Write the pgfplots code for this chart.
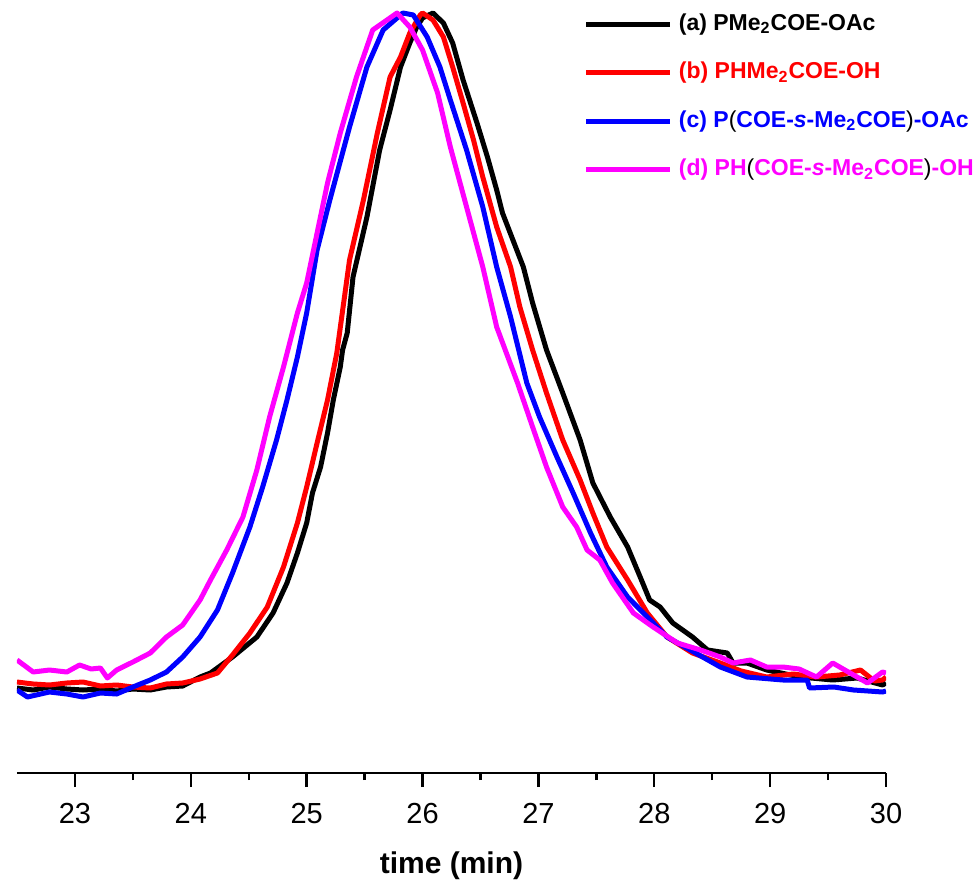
\documentclass[border=0pt]{standalone}
\usepackage{fontspec}
\setmainfont{Liberation Sans}
\usepackage{pgfplots}
\pgfplotsset{compat=1.18}
\definecolor{cBlack}{RGB}{0,0,0}
\definecolor{cRed}{RGB}{255,0,0}
\definecolor{cBlue}{RGB}{0,0,255}
\definecolor{cMag}{RGB}{255,0,255}
\begin{document}
\begin{tikzpicture}
\begin{axis}[
  at={(0,0)}, anchor=south west,
  scale only axis, width=434.5pt, height=386.5pt,
  xmin=22.5, xmax=30, ymin=0, ymax=773,
  axis x line*=bottom, hide y axis,
  axis line style={line width=1.2pt, black},
  xtick={23,24,25,26,27,28,29,30},
  minor x tick num=1,
  tick align=outside, xtick pos=bottom,
  major tick length=7pt, minor tick length=3.5pt,
  tick style={line width=1.2pt, black},
  /pgf/number format/assume math mode=true,
  xticklabel style={font=\fontsize{14.5}{17}\selectfont, yshift=-4.5pt},
  xlabel={\textbf{time (min)}},
  xlabel style={font=\fontsize{15}{18}\selectfont, yshift=-7pt},
  legend cell align=left,
  legend image code/.code={\draw[#1] (0pt,0pt) -- (42pt,0pt);},
  legend style={draw=none, fill=none, at={(0.645,0.99)}, anchor=north west,
    font=\bfseries\fontsize{11.5}{13}\selectfont,
    nodes={inner sep=0pt, text height=9pt, text depth=3pt},
    row sep=12.3pt, column sep=3pt},
  every axis plot/.append style={line width=2.5pt, line join=round},
]
\addplot[cBlack] coordinates {
(22.50,85) (22.64,83) (22.78,86) (22.93,84) (23.07,83) (23.22,84) (23.36,82) (23.50,84) (23.65,83) (23.79,86) (23.93,87)
(24.08,96) (24.17,100) (24.36,116) (24.57,136) (24.71,160) (24.83,190) (24.92,220) (25.00,250)
(25.05,280) (25.12,306) (25.18,340) (25.23,373) (25.29,406) (25.31,423) (25.35,440) (25.40,496)
(25.52,556) (25.63,623) (25.72,663) (25.81,706) (25.89,730) (25.95,746) (26.00,755) (26.09,760)
(26.18,750) (26.26,730) (26.35,693) (26.47,650) (26.56,616) (26.64,583) (26.69,560) (26.78,533)
(26.87,506) (26.95,470) (27.07,423) (27.21,380) (27.36,333) (27.47,290) (27.62,256) (27.77,226)
(27.90,190) (27.96,173) (28.05,166) (28.16,150) (28.33,136) (28.46,123) (28.63,120) (28.68,110)
(28.80,110) (28.97,103) (29.26,96) (29.54,93) (29.75,95) (29.97,88) (30.00,90)
};
\addlegendentry{\textcolor{cBlack}{(a) PMe\textsubscript{2}COE-OAc}}
\addplot[cRed] coordinates {
(22.50,91) (22.64,89) (22.78,88) (22.93,90) (23.07,91) (23.22,87) (23.36,88) (23.50,86) (23.65,85) (23.79,89) (23.93,90)
(24.08,94) (24.23,100) (24.36,118) (24.51,140) (24.66,166) (24.80,206) (24.92,250) (25.00,286)
(25.09,330) (25.18,373) (25.26,420) (25.37,513) (25.49,573) (25.61,640) (25.72,696) (25.81,716)
(25.89,740) (25.98,758) (26.00,760) (26.09,753) (26.18,736) (26.26,706) (26.35,670) (26.44,633)
(26.52,596) (26.64,546) (26.76,506) (26.84,466) (26.95,423) (27.07,380) (27.21,333) (27.36,293)
(27.47,260) (27.59,226) (27.77,193) (27.94,160) (28.11,136) (28.33,120) (28.57,110) (28.75,102)
(28.97,96) (29.20,99) (29.40,96) (29.60,98) (29.78,103) (29.90,92) (29.97,93) (30.00,96)
};
\addlegendentry{\textcolor{cRed}{(b) PHMe\textsubscript{2}COE-OH}}
\addplot[cBlue] coordinates {
(22.50,83) (22.59,76) (22.78,81) (22.93,79) (23.07,76) (23.22,80) (23.36,79) (23.50,86) (23.65,93)
(23.79,101) (23.93,116) (24.08,136) (24.23,163) (24.36,200) (24.51,246) (24.62,286) (24.74,333)
(24.83,373) (24.92,416) (25.00,460) (25.09,523) (25.20,573) (25.37,646) (25.52,706) (25.66,743)
(25.83,760) (25.92,758) (26.04,736) (26.15,706) (26.24,673) (26.38,623) (26.52,566) (26.64,506)
(26.76,456) (26.90,390) (27.01,356) (27.16,316) (27.30,280) (27.45,240) (27.59,206) (27.77,176)
(27.94,156) (28.11,136) (28.31,123) (28.57,106) (28.80,96) (29.11,93) (29.32,93) (29.34,85)
(29.55,86) (29.72,83) (29.97,81) (30.00,82)
};
\addlegendentry{\textcolor{cBlue}{(c) P}\textcolor{cBlack}{\mdseries(}\textcolor{cBlue}{COE-\textit{s}-Me\textsubscript{2}COE}\textcolor{cBlack}{\mdseries)}\textcolor{cBlue}{-OAc}}
\addplot[cMag] coordinates {
(22.50,113) (22.64,101) (22.78,103) (22.93,101) (23.04,108) (23.14,104) (23.22,105) (23.28,95) (23.36,103)
(23.50,111) (23.65,120) (23.79,136) (23.93,148) (24.08,173) (24.17,193) (24.31,223) (24.45,256)
(24.57,303) (24.68,356) (24.80,406) (24.92,460) (25.00,490) (25.18,590) (25.29,640) (25.43,696)
(25.57,743) (25.78,760) (25.89,746) (26.00,723) (26.13,680) (26.24,626) (26.38,566) (26.52,506)
(26.64,446) (26.82,390) (26.95,346) (27.07,306) (27.21,266) (27.33,246) (27.42,223) (27.53,213)
(27.64,190) (27.82,160) (27.99,146) (28.20,130) (28.40,123) (28.57,116) (28.68,110) (28.83,113)
(28.97,106) (29.11,106) (29.25,104) (29.40,96) (29.54,110) (29.69,100) (29.84,90) (29.97,101) (30.00,100)
};
\addlegendentry{\textcolor{cMag}{(d) PH}\textcolor{cBlack}{\mdseries(}\textcolor{cMag}{COE-\textit{s}-Me\textsubscript{2}COE}\textcolor{cBlack}{\mdseries)}\textcolor{cMag}{-OH}}
\end{axis}
\pgfresetboundingbox
\path[use as bounding box] (-8.5pt,-55pt) rectangle (480pt,386.5pt);
\end{tikzpicture}
\end{document}
